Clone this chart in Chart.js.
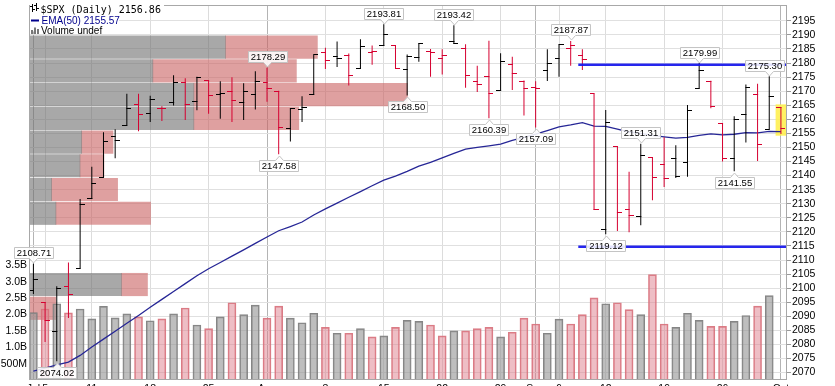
<!DOCTYPE html>
<html><head><meta charset="utf-8"><title>$SPX (Daily)</title>
<script src="https://cdn.jsdelivr.net/npm/chart.js@4.4.1/dist/chart.umd.min.js"></script>
<style>html,body{margin:0;padding:0;background:#fff;overflow:hidden}canvas{display:block}</style>
</head><body>
<canvas id="chart" width="835" height="386"></canvas>
<script>
// ---------------- DATA ----------------
const dates = ['Jul 1','Jul 5','Jul 6','Jul 7','Jul 8','Jul 11','Jul 12','Jul 13','Jul 14','Jul 15','Jul 18','Jul 19','Jul 20','Jul 21','Jul 22','Jul 25','Jul 26','Jul 27','Jul 28','Jul 29',
 'Aug 1','Aug 2','Aug 3','Aug 4','Aug 5','Aug 8','Aug 9','Aug 10','Aug 11','Aug 12','Aug 15','Aug 16','Aug 17','Aug 18','Aug 19','Aug 22','Aug 23','Aug 24','Aug 25','Aug 26','Aug 29','Aug 30','Aug 31',
 'Sep 1','Sep 2','Sep 6','Sep 7','Sep 8','Sep 9','Sep 12','Sep 13','Sep 14','Sep 15','Sep 16','Sep 19','Sep 20','Sep 21','Sep 22','Sep 23','Sep 26','Sep 27','Sep 28','Sep 29','Sep 30','Oct 3'];
const opens  = [2099.34,2095.05,2084.43,2100.42,2106.97,2131.72,2139.50,2153.81,2157.88,2165.13,2162.04,2163.79,2166.10,2172.91,2166.47,2173.71,2168.97,2169.81,2166.05,2168.83,
 2173.15,2169.94,2156.81,2163.51,2168.79,2183.76,2182.24,2182.81,2177.97,2183.74,2186.08,2186.24,2177.84,2181.90,2184.24,2181.58,2187.81,2185.09,2173.29,2175.10,2170.19,2179.45,2173.56,
 2171.33,2177.49,2181.61,2185.17,2182.76,2169.08,2120.86,2150.47,2127.86,2125.36,2146.48,2143.99,2145.94,2144.58,2170.94,2173.29,2158.54,2146.04,2161.85,2168.90,2156.51,2164.33];
const highs  = [2108.71,2095.05,2100.72,2109.08,2131.71,2143.16,2155.40,2156.45,2169.05,2169.05,2168.35,2164.63,2175.63,2174.56,2175.11,2173.71,2173.54,2174.98,2172.85,2177.09,
 2178.29,2170.20,2163.79,2168.19,2182.87,2185.44,2187.66,2183.41,2188.45,2186.28,2193.81,2186.24,2183.08,2187.03,2185.00,2184.94,2193.42,2186.66,2179.00,2187.94,2183.48,2182.27,2173.79,
 2173.56,2184.87,2186.57,2187.87,2184.94,2169.08,2163.30,2150.47,2141.33,2151.31,2146.48,2153.61,2150.80,2165.11,2179.99,2173.75,2158.54,2161.13,2172.40,2172.67,2175.30,2164.41];
const lows   = [2097.90,2080.86,2074.02,2089.39,2106.97,2131.72,2139.50,2146.21,2157.88,2155.79,2159.07,2159.40,2164.89,2159.75,2163.24,2161.95,2160.18,2159.07,2159.74,2163.49,
 2166.21,2147.58,2152.14,2159.07,2168.79,2177.85,2178.61,2172.00,2177.97,2179.42,2186.08,2178.14,2168.50,2180.46,2175.13,2175.96,2186.80,2171.25,2169.74,2160.39,2170.19,2170.41,2161.35,
 2157.09,2173.59,2175.10,2179.07,2177.49,2127.81,2119.12,2120.27,2119.90,2122.36,2131.20,2135.91,2139.17,2139.57,2170.94,2163.97,2145.04,2141.55,2151.79,2145.20,2156.51,2154.77];
const closes = [2102.95,2088.55,2099.73,2097.90,2129.90,2137.16,2152.14,2152.43,2163.75,2161.74,2166.89,2163.78,2173.02,2165.17,2175.03,2168.48,2169.18,2166.58,2170.06,2173.60,
 2170.84,2157.03,2163.79,2164.25,2182.87,2180.89,2181.74,2175.49,2185.79,2184.05,2190.15,2178.15,2182.22,2187.02,2183.87,2182.64,2186.90,2175.44,2172.47,2169.04,2180.38,2176.12,2170.95,
 2170.86,2179.98,2186.48,2186.16,2181.30,2127.81,2159.04,2127.02,2125.77,2147.26,2139.16,2139.12,2139.76,2163.12,2177.18,2164.69,2146.10,2159.93,2171.37,2151.13,2168.27,2156.86];
const prevClose = 2098.68;
// volume, billions of shares (last session not reported)
const volumes = [2.06,2.17,2.33,2.05,2.17,1.87,2.25,1.90,2.02,1.93,1.81,1.87,2.02,2.20,1.68,1.57,1.93,2.36,2.00,2.29,
 1.89,2.26,1.89,1.75,2.04,1.61,1.43,1.43,1.57,1.32,1.35,1.61,1.82,1.79,1.68,1.35,1.50,1.50,1.57,1.61,1.32,1.46,1.89,
 1.71,1.43,1.86,1.71,2.00,2.51,2.33,2.36,2.15,2.00,3.22,1.71,1.61,2.04,1.82,1.64,1.64,1.79,1.97,2.26,2.58,null];
const ema50 = [2070.5,2071.6,2072.7,2073.7,2076.1,2079.1,2081.9,2084.7,2087.5,2090.3,2093.2,2096.0,2098.8,2101.6,2104.4,2106.9,2109.1,2111.4,2113.6,2115.9,
 2118.2,2120.4,2121.9,2123.5,2126.0,2128.2,2130.2,2132.3,2134.3,2136.4,2138.4,2139.8,2141.5,2143.4,2144.7,2146.3,2147.9,2149.4,2150.0,2150.6,2151.2,2152.5,2153.6,
 2154.7,2156.0,2157.3,2158.0,2158.8,2157.6,2157.5,2156.5,2155.5,2155.0,2154.3,2153.8,2153.3,2153.6,2154.3,2154.8,2154.5,2154.7,2155.3,2155.2,2155.7,2155.6];
// volume-by-price zones (price at zone centre, up / down volume in billions)
const vbpPrice = [2185.68,2177.24,2168.80,2160.36,2151.92,2143.49,2135.05,2126.61,2118.17,2109.73,2101.29,2092.85];
const vbpUp    = [13.95,8.79,11.70,11.70,3.74,3.62,1.61,1.91,0,0,6.57,0];
const vbpDown  = [6.52,10.19,15.16,7.45,2.22,1.70,4.68,6.72,0,0,1.84,1.89];
// annotated highs / lows
const peakIdx  = [0,2,20,21,30,32,36,39,43,46,49,52,57,60,63];
const peakVal  = [2108.71,2074.02,2178.29,2147.58,2193.81,2168.50,2193.42,2160.39,2157.09,2187.87,2119.12,2151.31,2179.99,2141.55,2175.30];
const peakSide = ['high','low','high','low','high','low','high','low','low','high','low','high','high','low','high'];
// horizontal trend lines (price, starting session position)
const trendPrice = [2179.4, 2114.7];
const trendStart = [46.65, 46.65];
const highlightRange = [2154.3, 2165.2];
// axis ticks
const priceTicks = [2070,2075,2080,2085,2090,2095,2100,2105,2110,2115,2120,2125,2130,2135,2140,2145,2150,2155,2160,2165,2170,2175,2180,2185,2190,2195];
const volTicks = [0.5,1,1.5,2,2.5,3,3.5];
const volTickLabels = ['500M','1.0B','1.5B','2.0B','2.5B','3.0B','3.5B'];
const weekTicks  = [0,1,5,10,15,20,25,30,35,40,43,45,49,54,59,64];
const weekLabels = ['Jul','5','11','18','25','Aug','8','15','22','29','Sep','6','12','19','26','Oct'];
const monthTicks = [0,20,43,64];
const legendTexts = ['$SPX (Daily) 2156.86','EMA(50) 2155.57','Volume undef'];

// ---------------- CHART ----------------
const X_MIN = -0.377, X_MAX = 64.52;
const UP = '#000000', DOWN = 'rgb(214,0,48)';
const idx = dates.map((d,i)=>i);
const isUp = closes.map((c,i)=> c >= (i ? closes[i-1] : prevClose));

function tickImg(color, left){
  const c = document.createElement('canvas'); c.width = 9; c.height = 1;
  const g = c.getContext('2d'); g.fillStyle = color;
  if (left) g.fillRect(0,0,5,1); else g.fillRect(4,0,5,1);
  return c;
}
const imgs = {oU:tickImg(UP,true), oD:tickImg(DOWN,true), cU:tickImg(UP,false), cD:tickImg(DOWN,false)};

Chart.defaults.font.family = '"Liberation Sans", Arial, sans-serif';
Chart.defaults.font.size = 10.5;
Chart.defaults.color = '#000';

const decor = {
  id: 'decor',
  afterDatasetsDraw(chart){
    const {ctx, chartArea:a, scales} = chart;
    const xs = scales.x, ys = scales.y;
    ctx.save();
    // frame
    ctx.strokeStyle = '#a8a8a8'; ctx.lineWidth = 1;
    ctx.strokeRect(a.left + 0.5, a.top + 0.5, a.right - a.left - 1, a.bottom - a.top - 1);
    // peak labels
    ctx.font = '9.5px "Liberation Sans", Arial, sans-serif';
    ctx.textAlign = 'center'; ctx.textBaseline = 'middle';
    peakIdx.forEach((pi, k) => {
      const px = xs.getPixelForValue(pi);
      const py = ys.getPixelForValue(peakVal[k]);
      const txt = peakVal[k].toFixed(2);
      const w = Math.round(ctx.measureText(txt).width) + 5, h = 11;
      let bx = Math.round(px - w/2) + 0.5;
      if (bx + w > a.right - 3) bx = Math.round(a.right - 3 - w) + 0.5;
      const high = peakSide[k] === 'high';
      const by = high ? Math.round(py - 5.5 - h) + 0.5 : Math.round(py + 5.5) + 0.5;
      const tx = Math.round(px) + 0.5;
      ctx.beginPath();
      if (high) {
        ctx.moveTo(bx, by); ctx.lineTo(bx + w, by); ctx.lineTo(bx + w, by + h);
        ctx.lineTo(tx + 4, by + h); ctx.lineTo(tx, by + h + 4.5); ctx.lineTo(tx - 4, by + h);
        ctx.lineTo(bx, by + h); ctx.closePath();
      } else {
        ctx.moveTo(bx, by); ctx.lineTo(tx - 4, by); ctx.lineTo(tx, by - 4.5); ctx.lineTo(tx + 4, by);
        ctx.lineTo(bx + w, by); ctx.lineTo(bx + w, by + h); ctx.lineTo(bx, by + h); ctx.closePath();
      }
      ctx.fillStyle = 'rgba(255,255,255,0.88)'; ctx.fill();
      ctx.strokeStyle = '#c4c4c4'; ctx.stroke();
      ctx.fillStyle = '#000'; ctx.fillText(txt, bx + w/2, by + h/2 + 0.5);
    });
    // legend
    ctx.textAlign = 'left'; ctx.textBaseline = 'alphabetic';
    ctx.fillStyle = '#fff';
    ctx.fillRect(a.left + 1, 2, 134, 11);
    ctx.fillRect(a.left + 1, 13, 89, 11);
    ctx.fillRect(a.left + 1, 24, 76, 7.5);
    // row 1 icon + text
    ctx.fillStyle = '#000';
    ctx.fillRect(32, 4, 1, 8); ctx.fillRect(30, 6, 2, 1); ctx.fillRect(33, 9, 2, 1);
    ctx.fillRect(36, 3, 1, 8); ctx.fillRect(34, 5, 2, 1); ctx.fillRect(37, 8, 2, 1);
    ctx.font = '10px "DejaVu Sans Mono", monospace';
    ctx.fillText(legendTexts[0], 40.5, 12.5);
    // row 2
    ctx.fillStyle = 'rgb(0,0,140)';
    ctx.fillRect(31, 19.5, 8, 2);
    ctx.font = '10px "Liberation Sans", Arial, sans-serif';
    ctx.fillText(legendTexts[1], 41.5, 24);
    // row 3
    ctx.fillStyle = '#777';
    ctx.fillRect(31, 30, 2, 4); ctx.fillRect(34, 27.5, 2, 6.5); ctx.fillRect(37, 29, 2, 5);
    ctx.fillStyle = '#000';
    ctx.fillText(legendTexts[2], 41, 34.3);
    ctx.restore();
  }
};

new Chart(document.getElementById('chart'), {
  type: 'bar',
  data: {
    datasets: [
      // trend lines
      ...trendPrice.map((p, k) => ({
        type: 'line', data: [{x: trendStart[k], y: p}, {x: X_MAX, y: p}],
        borderColor: 'rgba(20,20,235,0.92)', borderWidth: 2.4, pointRadius: 0, order: 0
      })),
      // open ticks
      { type: 'line', showLine: false, data: idx.map(i => ({x: i, y: opens[i]})),
        pointStyle: c => isUp[c.dataIndex] ? imgs.oU : imgs.oD, pointRadius: 3, order: 1 },
      // close ticks
      { type: 'line', showLine: false, data: idx.map(i => ({x: i, y: closes[i]})),
        pointStyle: c => isUp[c.dataIndex] ? imgs.cU : imgs.cD, pointRadius: 3, order: 1 },
      // high-low bars
      { type: 'bar', data: idx.map(i => ({x: i, y: [lows[i], highs[i]]})),
        backgroundColor: isUp.map(u => u ? UP : DOWN), barThickness: 1, grouped: false,
        inflateAmount: 0, borderWidth: 0, order: 2 },
      // EMA(50)
      { type: 'line', data: idx.map(i => ({x: i, y: ema50[i]})), borderColor: 'rgb(38,38,150)',
        borderWidth: 1.3, pointRadius: 0, tension: 0, order: 3 },
      // last bar highlight
      { type: 'bar', data: [{x: idx[idx.length-1], y: highlightRange}], backgroundColor: 'rgba(255,238,70,0.85)',
        barThickness: 10, grouped: false, borderWidth: 0, order: 4 },
      // volume
      { type: 'bar', yAxisID: 'yVol', data: idx.map(i => ({x: i, y: volumes[i]})),
        backgroundColor: isUp.map(u => u ? 'rgba(150,150,150,0.62)' : 'rgba(222,125,140,0.5)'),
        borderColor: isUp.map(u => u ? 'rgba(120,120,120,0.9)' : 'rgba(215,110,120,0.9)'),
        borderWidth: 1, barThickness: 8, grouped: false, order: 6 },
      // volume by price: up
      { type: 'bar', indexAxis: 'y', xAxisID: 'xv', yAxisID: 'y',
        data: vbpPrice.map((p, k) => ({y: p, x: [0, vbpUp[k]]})),
        backgroundColor: 'rgba(110,110,110,0.6)', borderWidth: 0, barThickness: 22.5, grouped: false, order: 7 },
      // volume by price: down
      { type: 'bar', indexAxis: 'y', xAxisID: 'xv', yAxisID: 'y',
        data: vbpPrice.map((p, k) => ({y: p, x: [vbpUp[k], vbpUp[k] + vbpDown[k]]})),
        backgroundColor: 'rgba(202,97,97,0.6)', borderWidth: 0, barThickness: 22.5, grouped: false, order: 8 }
    ]
  },
  options: {
    responsive: false, animation: false, devicePixelRatio: 1, events: [],
    layout: {padding: {top: 1, left: 0, right: 0, bottom: 0}},
    plugins: {legend: {display: false}, tooltip: {enabled: false}},
    scales: {
      x: {
        type: 'linear', position: 'bottom', min: X_MIN, max: X_MAX, offset: false,
        afterBuildTicks: s => { s.ticks = weekTicks.map(v => ({value: v})); },
        afterFit: s => { s.height = 6; s.paddingLeft = 0; s.paddingRight = 0; },
        ticks: {autoSkip: false, maxRotation: 0, padding: 3, callback: v => weekLabels[weekTicks.indexOf(v)]},
        grid: {offset: false, drawTicks: false, color: c => monthTicks.includes(c.tick && c.tick.value) ? '#b4b4b4' : '#dcdcdc'},
        border: {display: false}
      },
      xv: {type: 'linear', min: 0, max: 53.8, display: false, offset: false, grid: {offset: false}},
      y: {
        type: 'linear', position: 'right', min: 2067.36, max: 2200.63, offset: false,
        afterBuildTicks: s => { s.ticks = priceTicks.map(v => ({value: v})); },
        afterFit: s => { s.width = 48; s.paddingTop = 0; s.paddingBottom = 0; },
        ticks: {autoSkip: false, padding: 1, callback: v => String(v)},
        grid: {offset: false, color: '#e0e0e0', tickLength: 4, tickColor: '#9a9a9a'},
        border: {display: false}
      },
      yVol: {
        type: 'linear', position: 'left', min: 0, max: 11.46, offset: false,
        afterBuildTicks: s => { s.ticks = volTicks.map(v => ({value: v})); },
        afterFit: s => { s.width = 29; s.paddingTop = 0; s.paddingBottom = 0; },
        ticks: {autoSkip: false, padding: 2, callback: v => volTickLabels[volTicks.indexOf(v)]},
        grid: {display: false, drawTicks: false},
        border: {display: false}
      }
    }
  },
  plugins: [decor]
});
</script>
</body></html>
